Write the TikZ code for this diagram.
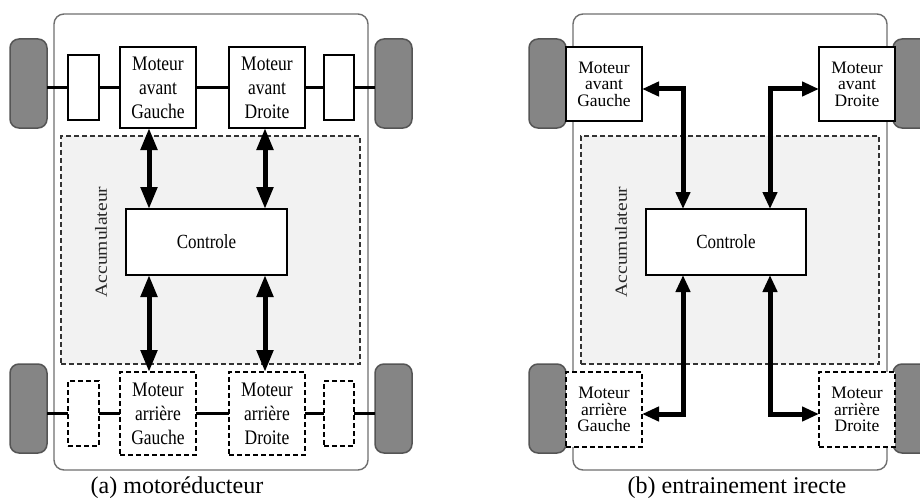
\documentclass[tikz,border=0pt]{standalone}
\usepackage{fontspec}
\setmainfont{Liberation Serif}
\usetikzlibrary{arrows.meta}
\definecolor{wheelg}{HTML}{858585}
\definecolor{wheelb}{HTML}{555555}
\definecolor{bodyc}{HTML}{6E6E6E}
\definecolor{accf}{HTML}{F2F2F2}
\newcommand\mtxt[3]{\scalebox{1}[#1]{\parbox{76pt}{\centering\fontsize{17.5}{#2}\selectfont\lineskiplimit=-100pt\relax #3\par}}}
\begin{document}
\begin{tikzpicture}[x=1pt,y=-1pt,
 wheel/.style={draw=wheelb, fill=wheelg, line width=1.5pt, rounded corners=9pt, minimum width=37pt, minimum height=89pt, anchor=north west, inner sep=0pt, outer sep=0pt},
 box/.style={draw, line width=1.1pt, fill=white, inner sep=0pt, outer sep=0pt, align=center, anchor=north west},
 dbox/.style={box, dash pattern=on 5pt off 3pt},
 body/.style={draw=bodyc, line width=1.4pt, rounded corners=10pt, anchor=north west, inner sep=0pt, outer sep=0pt},
 acc/.style={draw=black!80, fill=accf, line width=1.1pt, dash pattern=on 5pt off 3pt, anchor=north west, inner sep=0pt, outer sep=0pt},
 axle/.style={line width=3pt},
 linka/.style={line width=5pt, line join=miter, {Triangle[length=22pt,width=16pt]}-{Triangle[length=22pt,width=16pt]}},
 linkb/.style={line width=5pt, line join=miter, {Triangle[length=17pt,width=14pt]}-{Triangle[length=17pt,width=14pt]}},
 ctl/.style={box, font=\fontsize{17}{20}\selectfont},
 accl/.style={rotate=90, font=\fontsize{17}{20}\selectfont, text=black!85},
 captxt/.style={anchor=base, font=\fontsize{24}{28}\selectfont}
]
\useasboundingbox (0,0) rectangle (920,500);

% ===== Panel (a) =====
\node[body, minimum width=314pt, minimum height=456pt] (bodyA) at (54,14) {};
\node[acc, minimum width=299pt, minimum height=228pt] (accA) at (61,136) {};
\node[accl] (accTA) at (101,242) {\scalebox{1.15}[1]{Accumulateur}};

\node[wheel] (wLFa) at (10,39) {};
\node[wheel] (wRFa) at (375,39) {};
\node[wheel] (wLRa) at (10,364) {};
\node[wheel] (wRRa) at (375,364) {};

\node[box, minimum width=31pt, minimum height=65pt] (sLFa) at (68,55) {};
\node[box, minimum width=30pt, minimum height=65pt] (sRFa) at (324,55) {};
\node[dbox, minimum width=31pt, minimum height=65pt] (sLRa) at (68,381) {};
\node[dbox, minimum width=30pt, minimum height=65pt] (sRRa) at (324,381) {};

\node[box, minimum width=74pt, minimum height=81pt] (mAGa) at (120,47) {\mtxt{1.18}{20.3pt}{Moteur\\avant\\Gauche}};
\node[box, minimum width=74pt, minimum height=81pt] (mADa) at (229,47) {\mtxt{1.18}{20.3pt}{Moteur\\avant\\Droite}};
\node[dbox, minimum width=74pt, minimum height=83pt] (mRGa) at (120,372) {\mtxt{1.18}{20.3pt}{Moteur\\arrière\\Gauche}};
\node[dbox, minimum width=74pt, minimum height=83pt] (mRDa) at (229,372) {\mtxt{1.18}{20.3pt}{Moteur\\arrière\\Droite}};

\node[ctl, minimum width=161pt, minimum height=66pt] (ctrlA) at (126,209) {\scalebox{1}[1.18]{Controle}};

% axles (a)
\draw[axle] (wLFa.east |- sLFa.west) -- (sLFa.west);
\draw[axle] (sLFa.east) -- (mAGa.west |- sLFa.east);
\draw[axle] (mAGa.east |- sLFa.east) -- (mADa.west |- sLFa.east);
\draw[axle] (mADa.east |- sRFa.west) -- (sRFa.west);
\draw[axle] (sRFa.east) -- (wRFa.west |- sRFa.east);

\draw[axle] (wLRa.east |- sLRa.west) -- (sLRa.west);
\draw[axle] (sLRa.east) -- (mRGa.west |- sLRa.east);
\draw[axle] (mRGa.east |- sLRa.east) -- (mRDa.west |- sLRa.east);
\draw[axle] (mRDa.east |- sRRa.west) -- (sRRa.west);
\draw[axle] (sRRa.east) -- (wRRa.west |- sRRa.east);

% links (a)
\draw[linka] (149,0 |- mAGa.south) -- (149,0 |- ctrlA.north);
\draw[linka] (265,0 |- mADa.south) -- (265,0 |- ctrlA.north);
\draw[linka] (149,0 |- ctrlA.south) -- (149,0 |- mRGa.north);
\draw[linka] (265,0 |- ctrlA.south) -- (265,0 |- mRDa.north);

\node[captxt] (capA) at (177,493) {(a) motoréducteur};

% ===== Panel (b) =====
\node[body, minimum width=314pt, minimum height=456pt] (bodyB) at (573,14) {};
\node[acc, minimum width=298pt, minimum height=228pt] (accB) at (581,136) {};
\node[accl] (accTB) at (621,242) {\scalebox{1.15}[1]{Accumulateur}};

\begin{scope}
\clip (0,0) rectangle (920,500);
\node[wheel] (wLFb) at (529,39) {};
\node[wheel] (wRFb) at (893,39) {};
\node[wheel] (wLRb) at (529,364) {};
\node[wheel] (wRRb) at (893,364) {};
\end{scope}

\node[box, minimum width=72pt, minimum height=74pt] (mAGb) at (566,47) {\mtxt{1}{16.5pt}{Moteur\\avant\\Gauche}};
\node[box, minimum width=74pt, minimum height=74pt] (mADb) at (819,47) {\mtxt{1}{16.5pt}{Moteur\\avant\\Droite}};
\node[dbox, minimum width=72pt, minimum height=75pt] (mRGb) at (566,372) {\mtxt{1}{16.5pt}{Moteur\\arrière\\Gauche}};
\node[dbox, minimum width=74pt, minimum height=75pt] (mRDb) at (819,372) {\mtxt{1}{16.5pt}{Moteur\\arrière\\Droite}};

\node[ctl, minimum width=160pt, minimum height=66pt] (ctrlB) at (646,209) {\scalebox{1}[1.18]{Controle}};

% links (b)
\draw[linkb] (683,0 |- ctrlB.north) |- (mAGb.east |- 0,89);
\draw[linkb] (770,0 |- ctrlB.north) |- (mADb.west |- 0,89);
\draw[linkb] (683,0 |- ctrlB.south) |- (mRGb.east |- 0,414);
\draw[linkb] (770,0 |- ctrlB.south) |- (mRDb.west |- 0,414);

\node[captxt] (capB) at (737,493) {(b) entrainement irecte};
\end{tikzpicture}
\end{document}
